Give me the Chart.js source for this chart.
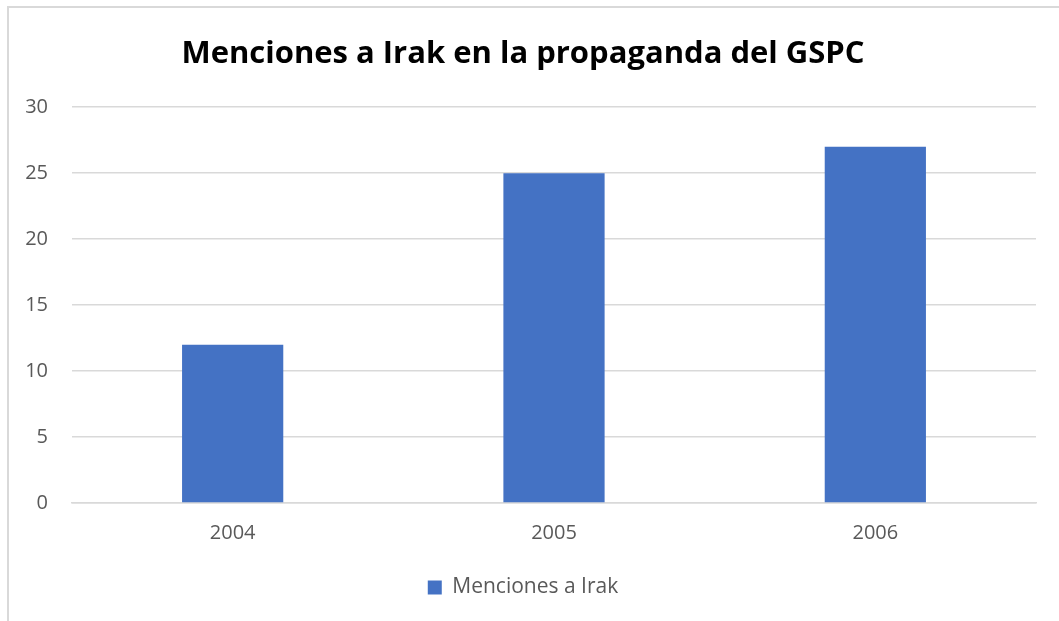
<!DOCTYPE html>
<html lang="es">
<head>
    <meta charset="UTF-8">
    <title>Menciones a Irak</title>
    <script src="https://cdn.jsdelivr.net/npm/chart.js"></script>
    <style>
        html, body {
            margin: 0;
            padding: 0;
            background: #fff;
            overflow: hidden;
        }
        #frame {
            position: absolute;
            left: 7px;
            top: 6px;
            width: 1100px;
            height: 700px;
            border: 2px solid #d9d9d9;
        }
        #wrap {
            position: absolute;
            left: 0;
            top: 0;
            width: 1059px;
            height: 621px;
        }
    </style>
</head>
<body>
    <div id="frame"></div>
    <div id="wrap"><canvas id="chart"></canvas></div>
    <script>
        const categories = ['2004', '2005', '2006'];
        const mentions = [12, 25, 27];
        const seriesName = 'Menciones a Irak';
        const chartTitle = 'Menciones a Irak en la propaganda del GSPC';

        const tickColor = '#595959';
        const gridColor = '#d9d9d9';

        const ctx = document.getElementById('chart').getContext('2d');
        new Chart(ctx, {
            type: 'bar',
            data: {
                labels: categories,
                datasets: [{
                    label: seriesName,
                    data: mentions,
                    backgroundColor: '#4472c4',
                    borderWidth: 0,
                    barPercentage: 0.315,
                    categoryPercentage: 1
                }]
            },
            options: {
                responsive: true,
                maintainAspectRatio: false,
                animation: false,
                layout: {
                    padding: { left: 10, right: 23, top: 14, bottom: 13 }
                },
                plugins: {
                    title: {
                        display: true,
                        text: chartTitle,
                        color: '#000',
                        font: { family: 'Open Sans', size: 31, weight: 'bold' },
                        padding: { top: 22, bottom: 34 }
                    },
                    legend: {
                        position: 'bottom',
                        labels: {
                            color: tickColor,
                            font: { family: 'Open Sans', size: 21 },
                            boxWidth: 14,
                            boxHeight: 14,
                            padding: 22
                        }
                    },
                    tooltip: { enabled: false }
                },
                scales: {
                    x: {
                        grid: { display: false },
                        border: { color: gridColor, width: 1.5 },
                        ticks: {
                            color: tickColor,
                            font: { family: 'Open Sans', size: 20 },
                            padding: 10
                        }
                    },
                    y: {
                        min: 0,
                        max: 30,
                        afterFit: function (scale) { scale.width = 62; },
                        grid: { color: gridColor, lineWidth: 1.5, drawTicks: false },
                        border: { display: false },
                        ticks: {
                            stepSize: 5,
                            color: tickColor,
                            font: { family: 'Open Sans', size: 20 },
                            padding: 24
                        }
                    }
                }
            }
        });
    </script>
</body>
</html>
